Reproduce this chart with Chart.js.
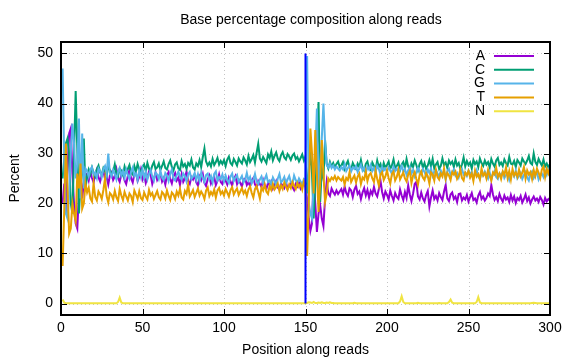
<!DOCTYPE html>
<html>
<head>
<meta charset="utf-8">
<script src="https://cdn.jsdelivr.net/npm/chart.js@4.4.1/dist/chart.umd.min.js"></script>
<style>
  html, body { margin: 0; padding: 0; background: #fff; }
  canvas { display: block; }
</style>
</head>
<body>
<canvas id="chart" width="576" height="360"></canvas>
<script>
// positions along the reads (read 1 = 1..150, read 2 = 151..300)
var positions = [];
for (var p = 1; p <= 300; p++) positions.push(p);

var seriesNames = ['A', 'C', 'G', 'T', 'N'];
var seriesColors = ['#9400d3', '#009e73', '#56b4e9', '#e69f00', '#f0e442'];

var baseA = [
  20, 24, 18, 27, 34, 35, 26, 20, 16, 15,
  22, 27, 21, 24, 26, 25.8, 24.6, 26.3, 25.1, 24.2,
  25.9, 26.8, 25.2, 24.4, 25.7, 26.5, 24.9, 25.3, 23.8, 25.6,
  26.2, 24.7, 25.4, 26.9, 25.1, 24.3, 25.8, 26.4, 24.6, 23.9,
  25.5, 26.7, 25.0, 24.2, 25.9, 26.1, 24.5, 25.3, 26.8, 24.8,
  25.6, 24.1, 25.2, 26.4, 25.7, 23.9, 25.0, 26.2, 24.7, 25.4,
  26.0, 24.4, 25.1, 23.8, 25.6, 26.3, 24.9, 24.0, 25.5, 26.1,
  24.6, 25.2, 23.7, 25.8, 24.3, 25.0, 26.4, 24.5, 23.9, 25.3,
  24.8, 25.7, 24.2, 23.6, 25.4, 24.7, 25.9, 24.1, 23.5, 24.9,
  25.6, 24.0, 24.8, 25.3, 23.7, 24.5, 25.8, 24.3, 23.9, 25.1,
  24.6, 23.8, 25.2, 24.4, 23.6, 24.9, 25.5, 23.9, 24.7, 24.1,
  23.4, 24.8, 25.0, 23.7, 24.3, 23.5, 24.6, 25.1, 23.8, 23.2,
  24.5, 23.9, 23.3, 24.7, 23.6, 22.9, 24.1, 23.7, 24.4, 23.0,
  23.8, 24.5, 23.2, 22.8, 24.0, 23.6, 23.1, 24.3, 22.9, 23.5,
  24.1, 23.3, 22.7, 23.9, 23.4, 24.2, 23.0, 23.6, 24.0, 23.3,
  21, 17, 14.5, 16, 25.3, 20, 14.3, 18, 19.7, 17,
  15.5, 21, 24.3, 22, 21.5, 23, 22.3, 21.8, 22.6, 21.9,
  22.4, 22.9, 21.8, 23.4, 22.1, 21.5, 23.0, 22.6, 21.3, 22.8,
  23.5, 21.9, 22.4, 20.9, 22.2, 23.1, 21.6, 22.7, 21.2, 22.5,
  21.8, 23.3, 22.0, 21.4, 22.9, 24.6, 22.3, 21.0, 22.4, 21.7,
  20.8, 22.6, 21.5, 20.6, 22.1, 21.3, 20.9, 22.8, 21.6, 20.7,
  22.3, 21.1, 23.6, 21.8, 20.5, 22.0, 23.9, 24.3, 21.4, 20.8,
  22.2, 21.0, 20.4, 21.7, 22.5, 19.4, 21.2, 22.6, 20.9, 21.5,
  20.6, 22.1, 21.3, 20.7, 22.4, 23.7, 21.0, 20.5, 21.8, 22.2,
  20.9, 21.4, 20.3, 21.9, 22.0, 20.6, 21.2, 20.8, 21.7, 20.4,
  21.3, 22.1, 20.7, 21.0, 20.2, 21.6, 22.3, 20.9, 21.4, 20.6,
  21.1, 22.0, 21.5, 23.7, 21.8, 20.7, 21.3, 20.5, 21.9, 21.0,
  20.4, 21.6, 20.8, 21.2, 20.3, 21.7, 20.6, 21.4, 20.1, 21.1,
  20.7, 21.5, 20.2, 20.9, 21.8, 20.5, 21.2, 20.0, 20.8, 21.4,
  20.6, 21.0, 20.3, 21.3, 20.7, 19.8, 21.1, 20.4, 20.9, 20.6
];

var baseC = [
  25, 29, 32, 33, 30, 20, 18, 30, 42.5, 31,
  18, 24, 26, 33, 23, 25.5, 26.8, 25.9, 27.2, 26.1,
  25.4, 26.9, 27.6, 26.2, 25.8, 27.1, 26.5, 25.6, 27.3, 26.7,
  25.9, 26.4, 27.8, 26.0, 25.5, 27.0, 26.6, 25.7, 27.4, 26.3,
  26.9, 27.7, 26.2, 25.8, 27.5, 26.4, 27.9, 26.8, 26.1, 27.3,
  27.8, 26.5, 28.1, 27.0, 26.4, 27.6, 28.3, 26.9, 27.2, 28.0,
  26.7, 27.5, 28.4, 27.1, 26.8, 27.9, 28.6, 27.3, 26.6, 27.8,
  28.2, 27.0, 26.7, 28.5, 27.4, 27.9, 26.9, 28.1, 27.6, 28.8,
  27.2, 26.8, 28.0, 27.5, 28.7, 27.3, 29.3, 31.0, 28.4, 27.6,
  28.2, 27.4, 28.9, 27.7, 28.3, 29.1, 27.8, 28.5, 27.9, 28.7,
  27.5, 28.8, 29.4, 28.1, 27.7, 28.9, 28.3, 27.6, 29.0, 28.4,
  28.0, 29.2, 28.6, 27.8, 29.5, 28.3, 28.9, 29.7, 28.2, 30.1,
  31.9, 29.0, 28.4, 29.3, 28.7, 28.1, 29.8, 29.1, 30.4, 28.6,
  29.5, 30.2, 29.0, 28.5, 29.7, 30.3, 29.2, 28.8, 29.9, 29.4,
  28.7, 29.6, 30.0, 28.9, 29.3, 28.4, 29.1, 29.8, 28.6, 29.5,
  22, 27, 29.7, 26, 17, 24, 31, 40.3, 20.3, 27,
  25, 32.7, 28, 27, 28.3, 27.4, 28.1, 27.2, 27.9, 28.4,
  27.3, 27.6, 28.3, 26.9, 27.8, 28.5, 27.2, 26.8, 28.1, 27.4,
  26.9, 28.0, 27.3, 28.7, 27.1, 26.6, 27.9, 28.4, 27.0, 26.7,
  28.2, 27.5, 26.8, 28.6, 27.3, 27.9, 26.5, 28.1, 27.2, 27.7,
  28.4, 26.9, 27.6, 28.8, 27.1, 27.5, 28.2, 26.7, 27.8, 28.3,
  27.0, 28.9, 27.4, 26.8, 28.0, 27.3, 28.6, 27.7, 26.6, 27.9,
  28.5, 27.2, 28.1, 26.9, 27.6, 28.7, 27.4, 28.9, 27.0, 27.8,
  28.3, 26.9, 27.5, 29.0, 27.7, 28.2, 27.1, 28.6, 27.9, 28.4,
  27.3, 28.8, 27.6, 28.1, 26.9, 27.8, 29.2, 27.4, 28.5, 27.7,
  28.2, 27.0, 28.7, 27.9, 28.4, 27.3, 29.0, 28.1, 27.5, 28.6,
  27.8, 28.3, 27.2, 28.9, 28.0, 27.4, 28.6, 29.1, 27.7, 28.2,
  27.5, 28.8, 28.1, 27.6, 29.3, 28.0, 27.8, 28.5, 27.3, 28.7,
  28.2, 27.6, 29.0, 28.4, 27.9, 28.6, 29.5, 28.1, 27.8, 30.0,
  28.3, 27.7, 28.9, 28.2, 27.6, 28.8, 27.4, 28.0, 27.2, 27.9
];

var baseG = [
  47, 28, 18, 17, 22, 30, 36, 32, 25, 28,
  37, 21, 34, 23, 27, 26.5, 25.4, 26.8, 27.3, 25.6,
  26.2, 25.1, 27.0, 26.4, 25.3, 26.9, 27.5, 25.8, 30.0, 26.1,
  25.4, 26.7, 25.9, 24.8, 26.3, 27.1, 25.6, 26.5, 25.2, 26.8,
  25.7, 24.9, 26.4, 27.2, 25.5, 26.0, 24.7, 26.6, 25.3, 26.9,
  25.1, 26.3, 24.8, 25.9, 26.7, 25.4, 24.6, 26.2, 25.8, 24.9,
  26.5, 25.2, 24.7, 26.1, 25.6, 24.5, 25.9, 26.8, 25.0, 24.6,
  25.7, 26.4, 25.3, 24.8, 26.0, 25.5, 24.4, 25.8, 26.3, 24.9,
  25.4, 26.1, 24.7, 25.9, 24.5, 26.2, 25.1, 24.3, 25.7, 26.0,
  24.8, 25.5, 24.2, 25.9, 26.4, 24.6, 25.3, 24.9, 25.8, 24.4,
  25.6, 24.7, 24.1, 25.4, 26.0, 24.5, 25.2, 25.7, 24.3, 24.9,
  25.5, 24.2, 24.8, 26.1, 24.6, 25.3, 24.0, 24.7, 25.9, 24.4,
  23.9, 24.8, 25.4, 24.1, 24.9, 25.7, 24.3, 24.6, 23.8, 25.2,
  24.5, 23.7, 25.0, 25.9, 24.2, 24.6, 25.3, 24.0, 24.8, 25.5,
  24.3, 23.9, 25.6, 24.7, 24.1, 25.0, 24.4, 23.8, 24.9, 24.6,
  49.5, 20, 18, 17, 24, 29.7, 39, 21, 28, 33,
  40, 32.3, 27.7, 27.2, 28.0, 27.1, 27.6, 26.8, 27.4, 27.0,
  26.6, 27.3, 26.8, 27.9, 26.5, 27.1, 27.6, 26.4, 27.2, 26.9,
  27.5, 26.3, 27.0, 27.8, 26.6, 27.2, 26.1, 27.4, 26.8, 27.7,
  26.5, 27.1, 26.2, 27.6, 26.9, 25.8, 27.3, 26.6, 27.0, 26.4,
  27.2, 26.7, 25.9, 27.4, 26.5, 27.0, 26.1, 26.8, 27.5, 26.3,
  26.9, 25.7, 26.6, 27.3, 26.0, 26.7, 25.4, 26.2, 27.1, 26.5,
  25.8, 26.9, 26.3, 25.6, 26.8, 26.1, 27.0, 25.5, 26.4, 26.7,
  26.0, 25.3, 26.6, 25.9, 26.3, 24.8, 26.5, 26.9, 25.7, 26.2,
  26.8, 25.6, 26.1, 25.2, 26.4, 26.9, 25.8, 26.2, 25.5, 26.6,
  25.9, 26.3, 25.1, 26.0, 26.7, 25.4, 24.9, 26.1, 25.6, 26.4,
  25.7, 25.0, 26.2, 24.8, 25.9, 26.5, 25.3, 24.9, 26.0, 25.6,
  26.3, 25.1, 25.7, 26.0, 24.7, 25.8, 26.2, 25.4, 26.6, 25.0,
  25.5, 26.1, 24.9, 25.7, 26.3, 25.2, 24.6, 25.9, 26.4, 25.1,
  25.8, 26.2, 24.8, 25.6, 26.0, 25.3, 26.5, 25.7, 26.8, 26.1
];

var baseT = [
  7.5, 19, 32, 23, 14, 15, 20, 18, 16.5, 26,
  23, 28, 19, 20, 24, 22.2, 23.2, 21.0, 20.4, 24.1,
  21.3, 20.6, 22.4, 21.8, 20.9, 22.7, 25.0, 21.5, 20.2, 22.1,
  21.7, 20.8, 22.5, 21.2, 20.5, 22.9, 21.6, 20.7, 22.3, 21.4,
  20.6, 22.0, 21.5, 20.3, 22.6, 21.8, 20.9, 22.4, 21.1, 20.7,
  22.2, 21.4, 20.8, 22.7, 21.6, 22.1, 20.9, 21.7, 22.5, 21.3,
  20.8, 22.3, 21.9, 21.0, 22.6, 21.5, 20.7, 22.2, 21.8, 20.9,
  22.4, 21.6, 22.9, 21.2, 20.8, 22.5, 21.9, 23.8, 21.4, 22.0,
  22.7, 21.3, 22.1, 23.0, 21.6, 22.4, 21.8, 20.9, 22.6, 23.2,
  21.5, 22.3, 21.7, 22.8, 21.2, 22.6, 23.1, 21.9, 22.4, 21.6,
  22.9, 22.2, 21.4, 22.7, 23.3, 21.8, 22.5, 23.0, 21.7, 22.4,
  23.1, 22.0, 22.6, 21.5, 22.8, 23.4, 22.1, 21.2, 22.9, 23.5,
  22.3, 21.0, 23.2, 22.6, 23.8, 22.4, 21.9, 23.5, 22.7, 23.9,
  22.8, 23.3, 24.0, 22.5, 23.6, 22.9, 24.2, 23.4, 22.7, 23.8,
  23.1, 24.3, 23.5, 22.9, 24.1, 23.3, 23.9, 22.8, 24.4, 23.6,
  9.5, 20, 35, 30, 22, 34.7, 26, 18.3, 24, 32.7,
  26, 20.3, 22, 25, 24.5, 25.2, 24.8, 25.5, 24.6, 25.3,
  24.9, 24.6, 25.3, 23.8, 25.1, 24.7, 26.2, 24.3, 25.0, 25.6,
  24.2, 25.4, 26.0, 23.9, 25.2, 24.8, 26.4, 24.5, 25.7, 26.1,
  25.0, 24.3, 26.5, 24.9, 23.6, 25.8, 26.3, 24.7, 25.4, 26.6,
  25.1, 24.0, 25.9, 26.4, 24.6, 25.3, 26.7, 24.8, 25.5, 26.2,
  25.0, 24.4, 25.8, 26.5, 24.1, 25.6, 26.3, 24.9, 23.8, 25.7,
  26.4, 25.2, 24.7, 26.1, 25.5, 24.0, 26.2, 25.8, 24.6, 26.7,
  25.3, 24.8, 26.0, 25.4, 27.0, 24.9, 26.1, 25.6, 24.7, 26.3,
  25.8, 26.4, 24.9, 25.5, 26.8, 25.1, 24.6, 26.2, 25.7, 26.5,
  25.2, 26.0, 24.5, 26.6, 25.4, 25.9, 24.8, 27.0, 25.6, 26.1,
  25.0, 26.7, 25.5, 24.6, 26.2, 25.8, 27.1, 25.3, 26.0, 24.9,
  26.4, 25.7, 27.2, 25.1, 26.5, 24.8, 26.9, 25.6, 26.2, 25.3,
  26.8, 25.4, 26.1, 27.3, 25.0, 26.6, 25.8, 26.3, 24.9, 26.7,
  25.5, 27.0, 26.2, 25.1, 26.8, 27.4, 25.3, 26.9, 26.0, 27.2
];

var baseN = [
  0.8, 0.15, 0.05, 0.05, 0.05, 0.05, 0.05, 0.05, 0.05, 0.05, 0.05, 0.05, 0.05, 0.05, 0.05, 0.05, 0.05, 0.05, 0.05, 0.05,
  0.05, 0.05, 0.05, 0.05, 0.05, 0.05, 0.05, 0.05, 0.05, 0.05, 0.05, 0.05, 0.05, 0.05, 0.3, 1.2, 0.2, 0.05, 0.05, 0.05,
  0.05, 0.05, 0.05, 0.05, 0.05, 0.05, 0.05, 0.05, 0.05, 0.05, 0.05, 0.05, 0.05, 0.05, 0.05, 0.05, 0.05, 0.05, 0.05, 0.05,
  0.05, 0.05, 0.05, 0.05, 0.05, 0.05, 0.05, 0.05, 0.05, 0.05, 0.05, 0.05, 0.05, 0.05, 0.05, 0.05, 0.05, 0.05, 0.05, 0.05,
  0.05, 0.05, 0.05, 0.05, 0.05, 0.05, 0.05, 0.05, 0.05, 0.05, 0.05, 0.05, 0.05, 0.05, 0.05, 0.05, 0.05, 0.05, 0.05, 0.05,
  0.05, 0.05, 0.05, 0.05, 0.05, 0.05, 0.05, 0.05, 0.05, 0.05, 0.05, 0.05, 0.05, 0.05, 0.05, 0.05, 0.05, 0.05, 0.05, 0.05,
  0.05, 0.05, 0.05, 0.05, 0.05, 0.05, 0.05, 0.05, 0.05, 0.05, 0.05, 0.05, 0.05, 0.05, 0.05, 0.05, 0.05, 0.05, 0.05, 0.05,
  0.05, 0.05, 0.05, 0.05, 0.05, 0.05, 0.05, 0.05, 0.05, 0.05, 0.1, 0.25, 0.2, 0.1, 0.3, 0.1, 0.12, 0.2, 0.1, 0.25,
  0.1, 0.12, 0.2, 0.1, 0.22, 0.1, 0.08, 0.05, 0.05, 0.05, 0.05, 0.05, 0.05, 0.05, 0.05, 0.05, 0.05, 0.05, 0.05, 0.15,
  0.05, 0.05, 0.05, 0.05, 0.05, 0.05, 0.05, 0.05, 0.05, 0.05, 0.05, 0.05, 0.05, 0.05, 0.05, 0.05, 0.05, 0.05, 0.05, 0.05,
  0.05, 0.05, 0.05, 0.05, 0.05, 0.05, 0.05, 0.4, 1.45, 0.3, 0.05, 0.05, 0.05, 0.05, 0.05, 0.05, 0.05, 0.05, 0.15, 0.05,
  0.05, 0.05, 0.05, 0.05, 0.05, 0.05, 0.05, 0.05, 0.05, 0.05, 0.05, 0.1, 0.05, 0.05, 0.05, 0.05, 0.05, 0.3, 0.8, 0.15,
  0.05, 0.05, 0.05, 0.05, 0.05, 0.05, 0.05, 0.05, 0.05, 0.05, 0.05, 0.05, 0.05, 0.05, 0.3, 1.3, 0.2, 0.05, 0.05, 0.05,
  0.05, 0.05, 0.05, 0.05, 0.05, 0.05, 0.05, 0.05, 0.05, 0.05, 0.05, 0.05, 0.05, 0.05, 0.05, 0.05, 0.05, 0.05, 0.05, 0.05,
  0.05, 0.05, 0.05, 0.05, 0.05, 0.05, 0.05, 0.05, 0.12, 0.15, 0.12, 0.05, 0.05, 0.05, 0.05, 0.05, 0.05, 0.05, 0.05, 0.1
];

// vertical marker between read 1 and read 2
var splitX = [150, 150];
var splitY = [0, 50];

var xTicks = [0, 50, 100, 150, 200, 250, 300];
var yTicks = [0, 10, 20, 30, 40, 50];

var FONT = '"Liberation Sans", Arial, sans-serif';
var FONT_SIZE = 14;

function toPoints(values) {
    var pts = [];
    for (var i = 0; i < values.length; i++) {
        pts.push({x: positions[i], y: values[i]});
    }
    return pts;
}

var allSeries = [baseA, baseC, baseG, baseT, baseN];
var datasets = [];
for (var s = 0; s < allSeries.length; s++) {
    datasets.push({
        label: seriesNames[s],
        data: toPoints(allSeries[s]),
        borderColor: seriesColors[s],
        backgroundColor: seriesColors[s],
        borderWidth: 2,
        pointRadius: 0,
        tension: 0,
        order: 5 - s   // later series drawn on top, like gnuplot
    });
}
datasets.push({
    label: 'split',
    data: [{x: splitX[0], y: splitY[0]}, {x: splitX[1], y: splitY[1]}],
    borderColor: '#0000ff',
    borderWidth: 2,
    pointRadius: 0,
    order: 0
});

// gnuplot-like frame: dotted grid, border, inward ticks on all sides, texts, key
var framePlugin = {
    id: 'frame',
    beforeDatasetsDraw: function (chart) {
        var ctx = chart.ctx, a = chart.chartArea;
        var x = chart.scales.x, y = chart.scales.y;
        ctx.save();
        ctx.strokeStyle = '#c4c4c4';
        ctx.lineWidth = 1;
        ctx.setLineDash([1, 3]);
        xTicks.forEach(function (v) {
            if (v <= 0 || v >= 300) return;
            var px = Math.round(x.getPixelForValue(v)) + 0.5;
            ctx.beginPath(); ctx.moveTo(px, a.top); ctx.lineTo(px, a.bottom); ctx.stroke();
        });
        yTicks.forEach(function (v) {
            var py = Math.round(y.getPixelForValue(v)) + 0.5;
            ctx.beginPath(); ctx.moveTo(a.left, py); ctx.lineTo(a.right, py); ctx.stroke();
        });
        ctx.restore();
    },
    afterDatasetsDraw: function (chart) {
        var ctx = chart.ctx, a = chart.chartArea;
        var x = chart.scales.x, y = chart.scales.y;
        ctx.save();
        ctx.strokeStyle = '#000';
        ctx.lineWidth = 1;
        var t = 6;
        xTicks.forEach(function (v) {
            var px = Math.round(x.getPixelForValue(v)) + 0.5;
            ctx.beginPath();
            ctx.moveTo(px, a.bottom); ctx.lineTo(px, a.bottom - t);
            ctx.moveTo(px, a.top); ctx.lineTo(px, a.top + t);
            ctx.stroke();
        });
        yTicks.forEach(function (v) {
            var py = Math.round(y.getPixelForValue(v)) + 0.5;
            ctx.beginPath();
            ctx.moveTo(a.left, py); ctx.lineTo(a.left + t, py);
            ctx.moveTo(a.right, py); ctx.lineTo(a.right - t, py);
            ctx.stroke();
        });
        ctx.lineWidth = 2;
        ctx.strokeRect(a.left, a.top, a.right - a.left, a.bottom - a.top);

        // texts
        ctx.fillStyle = '#000';
        ctx.font = FONT_SIZE + 'px ' + FONT;
        ctx.textAlign = 'center';
        ctx.textBaseline = 'middle';
        ctx.fillText('Base percentage composition along reads', 311, 20);
        ctx.fillText('Position along reads', (a.left + a.right) / 2, 350);
        ctx.save();
        ctx.translate(15, (a.top + a.bottom) / 2);
        ctx.rotate(-Math.PI / 2);
        ctx.fillText('Percent', 0, 0);
        ctx.restore();

        // key
        for (var i = 0; i < seriesNames.length; i++) {
            var ky = 56 + i * 13.8;
            ctx.textAlign = 'right';
            ctx.fillStyle = '#000';
            ctx.fillText(seriesNames[i], 485, ky);
            ctx.strokeStyle = seriesColors[i];
            ctx.lineWidth = 2;
            ctx.beginPath(); ctx.moveTo(494, ky); ctx.lineTo(534, ky); ctx.stroke();
        }
        ctx.restore();
    }
};

var chart = new Chart(document.getElementById('chart'), {
    type: 'line',
    data: {datasets: datasets},
    plugins: [framePlugin],
    options: {
        responsive: false,
        animation: false,
        devicePixelRatio: 1,
        layout: {padding: {top: 42, right: 26, left: 0, bottom: 0}},
        plugins: {
            legend: {display: false},
            title: {display: false},
            tooltip: {enabled: false}
        },
        scales: {
            x: {
                type: 'linear',
                min: 0,
                max: 300,
                afterBuildTicks: function (scale) {
                    scale.ticks = xTicks.map(function (v) { return {value: v}; });
                },
                afterFit: function (scale) { scale.height = 45; },
                ticks: {color: '#000', font: {family: FONT, size: FONT_SIZE}, padding: 5, maxRotation: 0},
                grid: {display: false, drawTicks: false},
                border: {display: false}
            },
            y: {
                min: -2.3,
                max: 52.3,
                afterBuildTicks: function (scale) {
                    scale.ticks = yTicks.map(function (v) { return {value: v}; });
                },
                afterFit: function (scale) { scale.width = 61; },
                ticks: {color: '#000', font: {family: FONT, size: FONT_SIZE}, padding: 8},
                grid: {display: false, drawTicks: false},
                border: {display: false}
            }
        }
    }
});
</script>
</body>
</html>
